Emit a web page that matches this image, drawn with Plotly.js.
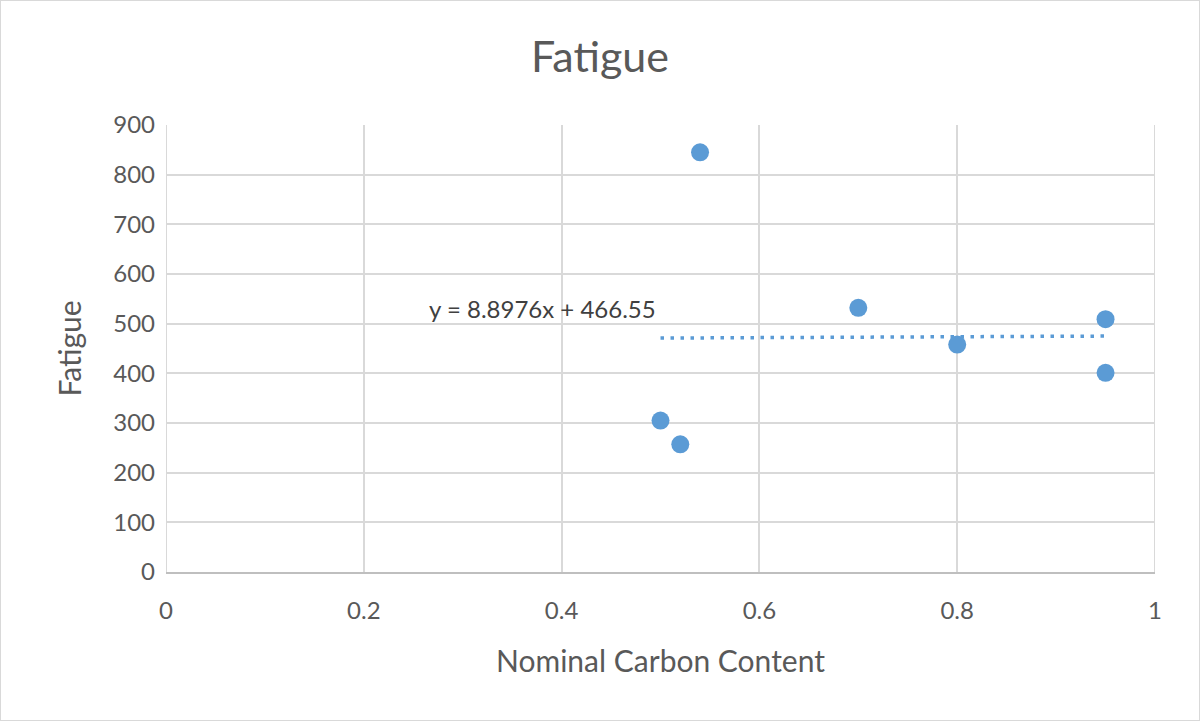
<!DOCTYPE html>
<html>
<head>
<meta charset="utf-8">
<script src="https://cdn.plot.ly/plotly-3.0.1.min.js"></script>
<style>
  html, body { margin: 0; padding: 0; background: #ffffff; }
  #chart { width: 1200px; height: 721px; box-sizing: border-box; border: 1px solid #d9d9d9; }
</style>
</head>
<body>
<div id="chart"></div>
<script>
// Data
const carbonContent = [0.5, 0.52, 0.54, 0.7, 0.8, 0.95, 0.95];
const fatigue = [305, 257, 845, 532, 458, 509, 401];
// Displayed linear trendline equation
const trendSlope = 8.8976;
const trendIntercept = 466.55;
const trendLabel = "y = 8.8976x + 466.55";

const xMin = Math.min(...carbonContent);
const xMax = Math.max(...carbonContent);
const trendX = [xMin, xMax];
const trendY = trendX.map(x => trendSlope * x + trendIntercept);

const blue = "#5b9bd5";
const font = "Lato, 'Open Sans', 'Liberation Sans', sans-serif";

const traces = [
  {
    x: trendX, y: trendY, type: "scatter", mode: "lines",
    line: { color: blue, width: 3.5, dash: "3.5px,6.5px" },
    hoverinfo: "skip", showlegend: false
  },
  {
    x: carbonContent, y: fatigue, type: "scatter", mode: "markers",
    marker: { color: blue, size: 18 },
    showlegend: false
  }
];

const layout = {
  width: 1198, height: 719,
  margin: { l: 165, r: 44, t: 124, b: 148 },
  paper_bgcolor: "#ffffff", plot_bgcolor: "#ffffff",
  font: { family: font, color: "#595959" },
  title: { text: "Fatigue", font: { size: 43, color: "#595959", family: font }, x: 0.5, xanchor: "center", y: 0.922, yanchor: "middle" },
  xaxis: {
    range: [0, 1], tickvals: [0, 0.2, 0.4, 0.6, 0.8, 1], ticktext: ["0", "0.2", "0.4", "0.6", "0.8", "1"],
    showgrid: true, gridcolor: "#d9d9d9", gridwidth: 2,
    zeroline: false, showline: true, linecolor: "#bfbfbf", linewidth: 2,
    ticks: "", ticklabelstandoff: 16,
    tickfont: { size: 24, color: "#595959" },
    title: { text: "Nominal Carbon Content", font: { size: 30, color: "#595959" }, standoff: 28 },
    fixedrange: true
  },
  yaxis: {
    range: [0, 900], dtick: 100, tick0: 0,
    showgrid: true, gridcolor: "#d9d9d9", gridwidth: 2,
    zeroline: false, showline: false,
    ticks: "", ticklabelstandoff: 10,
    tickfont: { size: 24, color: "#595959" },
    title: { text: "Fatigue", font: { size: 30, color: "#595959" }, standoff: 22 },
    fixedrange: true
  },
  shapes: [
    { type: "line", xref: "x", yref: "y", x0: 0, x1: 0, y0: 0, y1: 900, line: { color: "#d9d9d9", width: 2 }, layer: "below" },
    { type: "line", xref: "x", yref: "y", x0: 1, x1: 1, y0: 0, y1: 900, line: { color: "#d9d9d9", width: 2 }, layer: "below" }
  ],
  annotations: [
    { x: 0.381, y: 531, xref: "x", yref: "y", text: trendLabel, showarrow: false,
      font: { size: 24, color: "#404040", family: font }, xanchor: "center", yanchor: "middle" }
  ],
  hovermode: false
};

Plotly.newPlot("chart", traces, layout, { displayModeBar: false, staticPlot: true });
</script>
</body>
</html>
